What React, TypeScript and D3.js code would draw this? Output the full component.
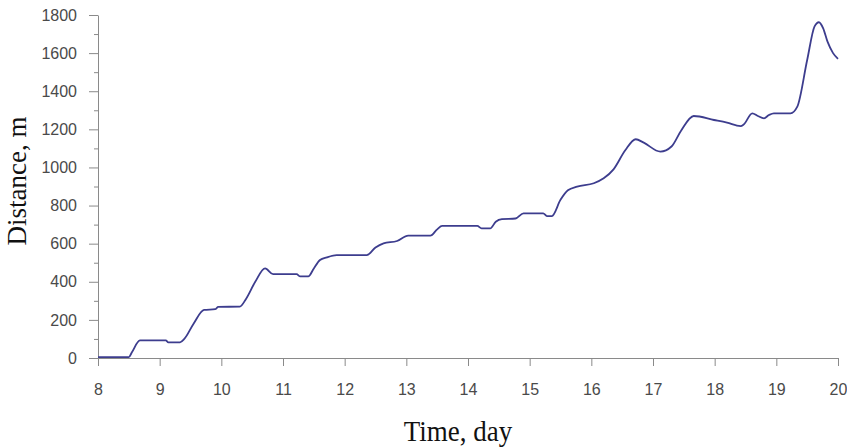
import React, { useRef, useEffect } from 'react';
import * as d3 from 'd3';

// time in days, distance in metres
const timeDays = [
  8.0, 8.5, 8.55, 8.68, 9.1, 9.14, 9.33, 9.4, 9.55, 9.72, 9.9, 9.95, 10.3, 10.4, 10.55, 10.71,
  10.84, 11.22, 11.28, 11.41, 11.5, 11.6, 11.71, 11.87, 12.36, 12.5, 12.63, 12.85, 13.03, 13.39,
  13.5, 13.58, 14.15, 14.22, 14.36, 14.45, 14.55, 14.77, 14.9, 15.22, 15.28, 15.36, 15.5, 15.62,
  15.77, 16.04, 16.2, 16.36, 16.55, 16.72, 16.85, 17.12, 17.3, 17.45, 17.66, 17.99, 18.2, 18.42,
  18.47, 18.61, 18.7, 18.8, 18.88, 18.96, 19.23, 19.34, 19.5, 19.62, 19.69, 19.76, 19.83, 19.92, 20.0,
];
const distance = [
  5, 5, 30, 92, 92, 82, 82, 100, 180, 252, 256, 268, 270, 310, 400, 470,
  440, 440, 428, 428, 470, 514, 528, 540, 540, 580, 602, 614, 642, 642,
  675, 693, 693, 680, 680, 715, 729, 732, 759, 759, 745, 745, 830, 880,
  899, 917, 943, 990, 1090, 1148, 1130, 1083, 1110, 1190, 1270, 1249, 1235, 1217,
  1225, 1284, 1270, 1258, 1275, 1284, 1284, 1319, 1564, 1740, 1762, 1730, 1660, 1600, 1570,
];
const xTicks = [8, 9, 10, 11, 12, 13, 14, 15, 16, 17, 18, 19, 20];
const yTicks = [0, 200, 400, 600, 800, 1000, 1200, 1400, 1600, 1800];
const yMinorTicks = [100, 300, 500, 700, 900, 1100, 1300, 1500, 1700];

const W = 847;
const H = 448;
const margin = { left: 98, right: 9, top: 15, bottom: 90 };

const App = () => {
  const svgRef = useRef<SVGSVGElement>(null);

  useEffect(() => {
    const svg = d3.select(svgRef.current);
    svg.selectAll('*').remove();

    const x = d3.scaleLinear().domain([8, 20]).range([margin.left, W - margin.right]);
    const y = d3.scaleLinear().domain([0, 1800]).range([H - margin.bottom, margin.top]);
    const axisColor = '#8a8a8a';
    const labelColor = '#4a4a4a';
    const font = '"Liberation Sans", Arial, sans-serif';

    // x axis
    const gx = svg.append('g').attr('transform', `translate(0,${y(0)})`);
    gx.call(d3.axisBottom(x).tickValues(xTicks).tickSize(8).tickPadding(18).tickSizeOuter(0).tickFormat(d3.format('d')));
    gx.select('.domain').attr('stroke', axisColor);
    gx.selectAll('.tick line').attr('stroke', axisColor);
    gx.selectAll('.tick text')
      .attr('fill', labelColor)
      .style('font-family', font)
      .style('font-size', '16px');

    // y axis, minor ticks first
    const gyMinor = svg.append('g').attr('transform', `translate(${x(8)},0)`);
    gyMinor.call(d3.axisLeft(y).tickValues(yMinorTicks).tickSize(4).tickFormat(() => ''));
    gyMinor.select('.domain').remove();
    gyMinor.selectAll('.tick line').attr('stroke', axisColor);

    const gy = svg.append('g').attr('transform', `translate(${x(8)},0)`);
    gy.call(d3.axisLeft(y).tickValues(yTicks).tickSize(9).tickPadding(12).tickSizeOuter(0).tickFormat(d3.format('d')));
    gy.select('.domain').attr('stroke', axisColor);
    gy.selectAll('.tick line').attr('stroke', axisColor);
    gy.selectAll('.tick text')
      .attr('fill', labelColor)
      .style('font-family', font)
      .style('font-size', '16px');

    // the series
    const line = d3.line<number>()
      .x((d, i) => x(timeDays[i]))
      .y(d => y(d))
      .curve(d3.curveMonotoneX);

    svg.append('path')
      .datum(distance)
      .attr('d', line)
      .attr('fill', 'none')
      .attr('stroke', '#3d3d8e')
      .attr('stroke-width', 1.8);

    // axis titles
    svg.append('text')
      .attr('transform', `translate(458,441) scale(1,1.12)`)
      .attr('text-anchor', 'middle')
      .style('font-family', '"Liberation Serif", "Times New Roman", serif')
      .style('font-size', '27px')
      .attr('fill', '#111')
      .text('Time, day');

    svg.append('text')
      .attr('transform', 'translate(26,181) rotate(-90)')
      .attr('text-anchor', 'middle')
      .style('font-family', '"Liberation Serif", "Times New Roman", serif')
      .style('font-size', '27px')
      .attr('fill', '#111')
      .text('Distance, m');
  }, []);

  return (
    <svg
      ref={svgRef}
      width={W}
      height={H}
      style={{ position: 'absolute', left: 0, top: 0, background: 'white' }}
    />
  );
};

export default App;
